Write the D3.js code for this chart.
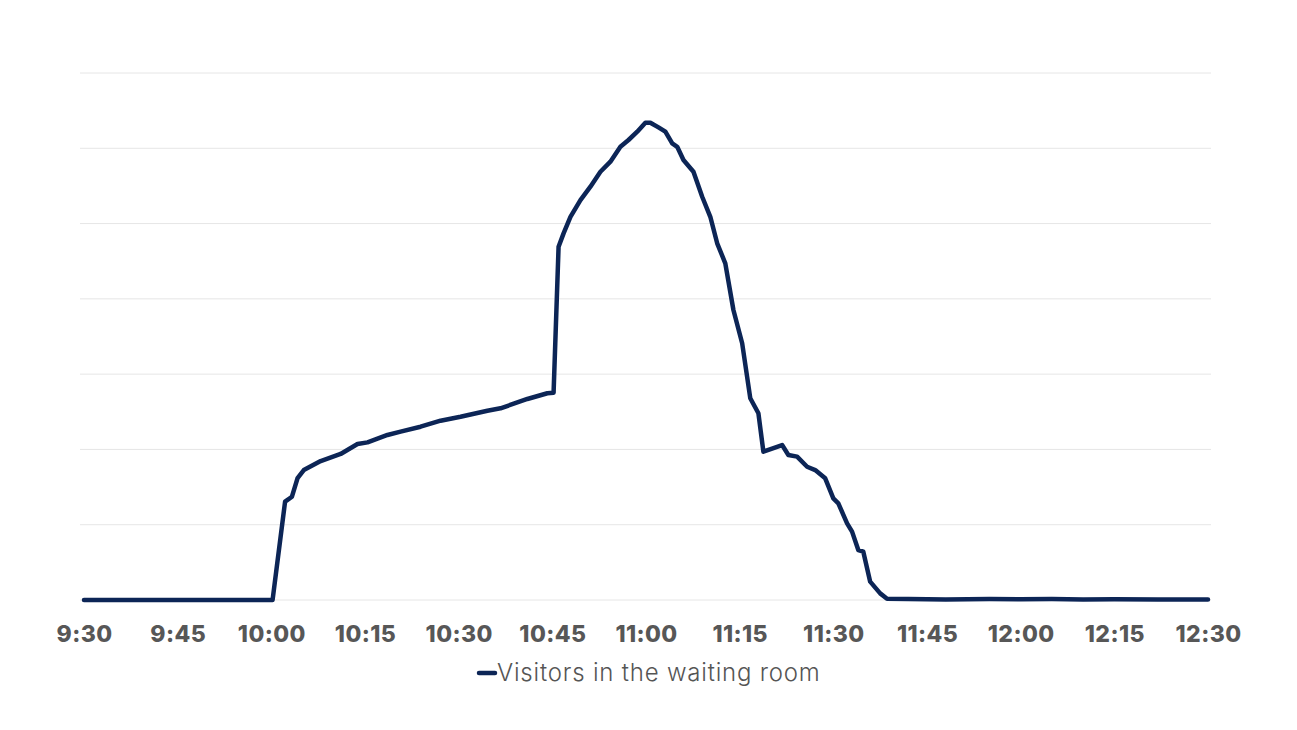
<!DOCTYPE html>
<html>
<head>
<meta charset="utf-8">
<script src="https://cdn.jsdelivr.net/npm/d3@7"></script>
<style>
  html, body { margin: 0; padding: 0; background: #fff; }
  svg { display: block; }
</style>
</head>
<body>
<svg id="chart" width="1297" height="730"></svg>
<script>
// ---- Data ----
const times = [
  "09:30:00","09:45:00","10:00:12","10:02:12","10:03:18","10:04:12","10:05:12","10:07:54",
  "10:11:06","10:13:48","10:15:24","10:18:36","10:20:42","10:23:54","10:27:06","10:30:18",
  "10:34:36","10:36:42","10:41:00","10:44:12","10:45:12","10:46:00","10:46:48","10:47:54",
  "10:49:30","10:51:06","10:52:42","10:54:18","10:55:54","10:57:12","10:58:36","10:59:54",
  "11:00:42","11:02:00","11:03:06","11:04:12","11:05:00","11:06:00","11:07:36","11:09:00",
  "11:10:18","11:11:24","11:12:42","11:14:00","11:15:24","11:16:42","11:18:00","11:18:48",
  "11:21:48","11:22:48","11:24:12","11:25:48","11:27:06","11:28:42","11:30:00","11:30:48",
  "11:32:12","11:33:00","11:34:00","11:34:48","11:35:54","11:37:30","11:38:36","11:42:00",
  "11:48:00","11:55:00","12:00:00","12:05:00","12:10:00","12:15:00","12:22:00","12:30:00"
];
const visitors = [
  0, 0, 0, 653, 686, 810, 863, 923,
  970, 1036, 1047, 1096, 1118, 1151, 1191, 1217,
  1257, 1273, 1335, 1373, 1377, 2346, 2435, 2545,
  2656, 2745, 2844, 2911, 3010, 3055, 3110, 3170,
  3170, 3139, 3110, 3033, 3010, 2922, 2844, 2678,
  2545, 2369, 2236, 1926, 1705, 1340, 1240, 985,
  1029, 963, 952, 885, 863, 808, 675, 642,
  509, 454, 332, 321, 122, 44, 8, 6,
  4, 7, 5, 6, 4, 5, 3, 3
];
const tickLabels = ["9:30","9:45","10:00","10:15","10:30","10:45","11:00","11:15","11:30","11:45","12:00","12:15","12:30"];
const gridValues = [0, 500, 1000, 1500, 2000, 2500, 3000, 3500];
const seriesName = "Visitors in the waiting room";

// ---- Layout ----
const svg = d3.select("#chart");
const parse = d3.timeParse("%H:%M:%S");
const parseTick = d3.timeParse("%H:%M");
const data = times.map((t, i) => ({ t: parse(t), v: visitors[i] }));

const x = d3.scaleTime()
  .domain([parse("09:30:00"), parse("12:30:00")])
  .range([84, 1208]);
const y = d3.scaleLinear()
  .domain([0, 3500])
  .range([600, 73]);

// gridlines
svg.append("g")
  .selectAll("line")
  .data(gridValues)
  .join("line")
  .attr("x1", 80).attr("x2", 1211)
  .attr("y1", d => y(d)).attr("y2", d => y(d))
  .attr("stroke", "#e6e6e6")
  .attr("stroke-width", 1);

// x axis
const xAxis = d3.axisBottom(x)
  .tickValues(tickLabels.map(s => parseTick(s)))
  .tickFormat(d3.timeFormat("%-H:%M"))
  .tickSize(0)
  .tickPadding(0);
const gx = svg.append("g")
  .attr("transform", "translate(0,642)")
  .call(xAxis);
gx.select(".domain").remove();
gx.selectAll("text")
  .attr("dy", 0)
  .attr("fill", "#575757")
  .style("font-family", "Inter, 'Open Sans', sans-serif")
  .style("font-weight", "800")
  .style("font-size", "23px")
  .style("letter-spacing", "0.4px");

// line
const line = d3.line()
  .x(d => x(d.t))
  .y(d => y(d.v))
  .curve(d3.curveLinear);
svg.append("path")
  .datum(data)
  .attr("d", line)
  .attr("fill", "none")
  .attr("stroke", "#0c2556")
  .attr("stroke-width", 4.5)
  .attr("stroke-linejoin", "round")
  .attr("stroke-linecap", "round");

// legend
const lg = svg.append("g").attr("transform", "translate(0,673)");
lg.append("line")
  .attr("x1", 479).attr("x2", 495)
  .attr("y1", 0).attr("y2", 0)
  .attr("stroke", "#0c2556")
  .attr("stroke-width", 4.5)
  .attr("stroke-linecap", "round");
lg.append("text")
  .attr("x", 497)
  .attr("y", 8)
  .attr("fill", "#555")
  .style("font-family", "Inter, 'Open Sans', sans-serif")
  .style("font-weight", "300")
  .style("font-size", "24px")
  .style("letter-spacing", "0.8px")
  .text(seriesName);
</script>
</body>
</html>
